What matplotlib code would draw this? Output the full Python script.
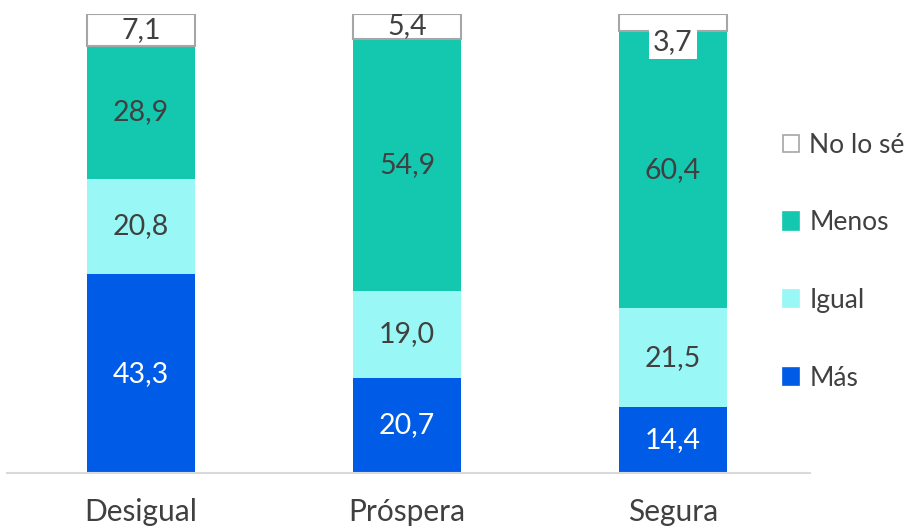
import numpy as np
import matplotlib
matplotlib.use('Agg')
import matplotlib.pyplot as plt
from matplotlib.patches import Patch

plt.rcParams['font.family'] = ['Lato', 'DejaVu Sans']

categories = ['Desigual', 'Próspera', 'Segura']
series = ['Más', 'Igual', 'Menos', 'No lo sé']
mas = [43.3, 20.7, 14.4]
igual = [20.8, 19.0, 21.5]
menos = [28.9, 54.9, 60.4]
no_se = [7.1, 5.4, 3.7]

colors = ['#005CE6', '#99F7F5', '#14C8AF', '#FFFFFF']
edges = ['none', 'none', 'none', '#A6A6A6']
text_colors = ['white', '#404040', '#404040', '#404040']

fig = plt.figure(figsize=(9.16, 5.30), dpi=100)
ax = fig.add_axes([7 / 916, 1 - 473 / 530, (810 - 7) / 916, (473 - 14) / 530])

x = np.arange(len(categories))
bottom = np.zeros(len(categories))
for vals, name, col, ec, tc in zip([mas, igual, menos, no_se], series, colors, edges, text_colors):
    vals = np.array(vals)
    ax.bar(x, vals, width=0.406, bottom=bottom, color=col, edgecolor=ec,
           linewidth=1.5 if ec != 'none' else 0, label=name)
    for xi, b, v in zip(x, bottom, vals):
        label = f'{v:.1f}'.replace('.', ',')
        if v < 5:
            # small segment: label pushed below the bar top, on a white box
            ax.text(xi, b - 2.4, label, ha='center', va='center', fontsize=20.5, color=tc,
                    bbox=dict(facecolor='white', edgecolor='none', pad=3))
        else:
            ax.text(xi, b + v / 2, label, ha='center', va='center', fontsize=20.5, color=tc)
    bottom += vals

ax.set_xlim(-0.504, 2.515)
ax.set_ylim(0, 100)
ax.set_xticks(x)
ax.set_xticklabels(categories, fontsize=21.5, color='#404040')
ax.tick_params(axis='x', length=0, pad=18)
ax.set_yticks([])
for s in ['top', 'right', 'left']:
    ax.spines[s].set_visible(False)
ax.spines['bottom'].set_color('#D9D9D9')
ax.spines['bottom'].set_linewidth(1.5)

handles = [Patch(facecolor=c, edgecolor=(e if e != 'none' else c), linewidth=1.2)
           for c, e in zip(colors, edges)][::-1]
leg = fig.legend(handles, series[::-1], loc='upper left', bbox_to_anchor=(772 / 916, 1 - 122 / 530),
                 frameon=False, fontsize=19, labelcolor='#404040', handlelength=0.62,
                 handleheight=0.62, handletextpad=0.4, labelspacing=2.0, borderaxespad=0)

fig.savefig('out.png', dpi=100)
